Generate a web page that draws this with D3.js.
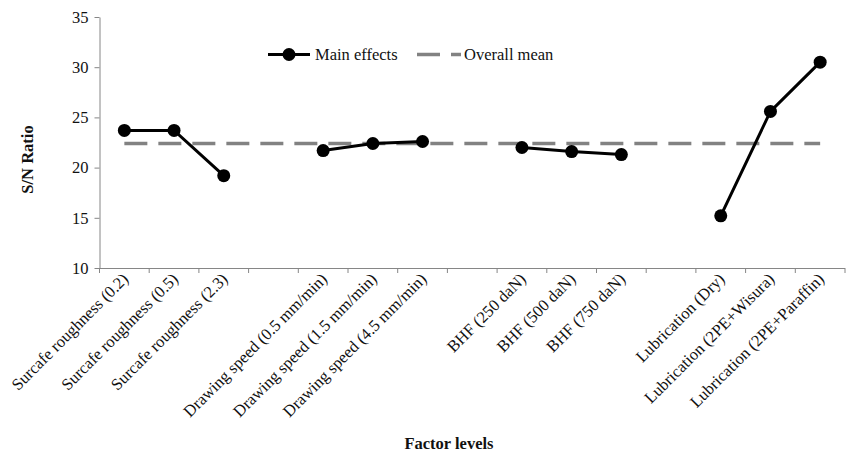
<!DOCTYPE html>
<html>
<head>
<meta charset="utf-8">
<script src="https://cdn.jsdelivr.net/npm/d3@7"></script>
<style>
  body { margin: 0; background: #fff; }
  svg text { font-family: "Liberation Serif", "Times New Roman", serif; }
</style>
</head>
<body>
<svg id="chart" width="846" height="453"></svg>
<script>
// Factor levels along the x axis; empty slots separate the factor groups
const slots = [
  "Surcafe roughness (0.2)", "Surcafe roughness (0.5)", "Surcafe roughness (2.3)", "gap1",
  "Drawing speed (0.5 mm/min)", "Drawing speed (1.5 mm/min)", "Drawing speed (4.5 mm/min)", "gap2",
  "BHF (250 daN)", "BHF (500 daN)", "BHF (750 daN)", "gap3",
  "Lubrication (Dry)", "Lubrication (2PE+Wisura)", "Lubrication (2PE+Paraffin)"
];

// S/N ratio per factor level, one array per factor
const roughnessLevels = ["Surcafe roughness (0.2)", "Surcafe roughness (0.5)", "Surcafe roughness (2.3)"];
const roughnessSN = [23.7, 23.7, 19.2];
const speedLevels = ["Drawing speed (0.5 mm/min)", "Drawing speed (1.5 mm/min)", "Drawing speed (4.5 mm/min)"];
const speedSN = [21.7, 22.4, 22.6];
const bhfLevels = ["BHF (250 daN)", "BHF (500 daN)", "BHF (750 daN)"];
const bhfSN = [22.0, 21.6, 21.3];
const lubLevels = ["Lubrication (Dry)", "Lubrication (2PE+Wisura)", "Lubrication (2PE+Paraffin)"];
const lubSN = [15.2, 25.6, 30.5];

const overallMean = 22.4;
const yTicks = [10, 15, 20, 25, 30, 35];

const svg = d3.select("#chart");
const m = { left: 99.5, right: 845, top: 17, bottom: 268 };
const axisColor = "#868686";
const fs = 16.5;

const x = d3.scaleBand().domain(slots).range([m.left, m.right]).padding(0);
const y = d3.scaleLinear().domain([10, 35]).range([m.bottom, m.top]);
const cx = s => x(s) + x.bandwidth() / 2;

// y axis
const yAxis = svg.append("g")
  .attr("transform", `translate(${m.left},0)`)
  .call(d3.axisLeft(y).tickValues(yTicks).tickSize(5).tickSizeOuter(0).tickPadding(6));
yAxis.select(".domain").attr("stroke", axisColor);
yAxis.selectAll(".tick line").attr("stroke", axisColor);
yAxis.selectAll(".tick text").attr("font-size", fs).attr("fill", "#111");

// x axis: line with ticks at slot boundaries
const xg = svg.append("g");
xg.append("line")
  .attr("x1", m.left).attr("x2", m.right)
  .attr("y1", m.bottom + 0.5).attr("y2", m.bottom + 0.5)
  .attr("stroke", axisColor);
const boundaries = slots.map(s => x(s)).concat([x(slots[slots.length - 1]) + x.bandwidth()]);
xg.selectAll("line.tk").data(boundaries).join("line").attr("class", "tk")
  .attr("x1", d => d).attr("x2", d => d)
  .attr("y1", m.bottom).attr("y2", m.bottom + 5)
  .attr("stroke", axisColor);

// rotated category labels
const labelSlots = slots.filter(s => !s.startsWith("gap"));
xg.selectAll("text.cat").data(labelSlots).join("text").attr("class", "cat")
  .attr("transform", d => `translate(${cx(d) + 5},${m.bottom + 12}) rotate(-45)`)
  .attr("text-anchor", "end")
  .attr("font-size", fs)
  .attr("fill", "#111")
  .text(d => d);

// overall mean dashed line
svg.append("line")
  .attr("x1", cx(slots[0]))
  .attr("x2", cx(slots[slots.length - 1]))
  .attr("y1", y(overallMean)).attr("y2", y(overallMean))
  .attr("stroke", "#828282").attr("stroke-width", 3.5)
  .attr("stroke-dasharray", "23,11");

// main effects lines and markers
const groups = [
  [roughnessLevels, roughnessSN],
  [speedLevels, speedSN],
  [bhfLevels, bhfSN],
  [lubLevels, lubSN]
];
const line = d3.line().x(d => cx(d[0])).y(d => y(d[1]));
groups.forEach(([lv, vals]) => {
  const pts = lv.map((l, i) => [l, vals[i]]);
  svg.append("path").datum(pts)
    .attr("d", line).attr("fill", "none")
    .attr("stroke", "#000").attr("stroke-width", 3);
  svg.selectAll(null).data(pts).join("circle")
    .attr("cx", d => cx(d[0]))
    .attr("cy", d => y(d[1]))
    .attr("r", 6.5).attr("fill", "#000");
});

// legend
const lg = svg.append("g");
lg.append("line").attr("x1", 268).attr("x2", 310).attr("y1", 54.5).attr("y2", 54.5)
  .attr("stroke", "#000").attr("stroke-width", 3);
lg.append("circle").attr("cx", 289).attr("cy", 54.5).attr("r", 6.5).attr("fill", "#000");
lg.append("text").attr("x", 315).attr("y", 60).attr("font-size", fs).attr("fill", "#111").text("Main effects");
lg.append("line").attr("x1", 417).attr("x2", 461).attr("y1", 54.5).attr("y2", 54.5)
  .attr("stroke", "#828282").attr("stroke-width", 3.5).attr("stroke-dasharray", "23,11");
lg.append("text").attr("x", 464).attr("y", 60).attr("font-size", fs).attr("fill", "#111").text("Overall mean");

// axis titles
svg.append("text")
  .attr("transform", `translate(33,159.5) rotate(-90)`)
  .attr("text-anchor", "middle").attr("font-size", fs).attr("font-weight", "bold")
  .attr("fill", "#111").text("S/N Ratio");
svg.append("text")
  .attr("x", 449).attr("y", 449)
  .attr("text-anchor", "middle").attr("font-size", fs).attr("font-weight", "bold")
  .attr("fill", "#111").text("Factor levels");
</script>
</body>
</html>
